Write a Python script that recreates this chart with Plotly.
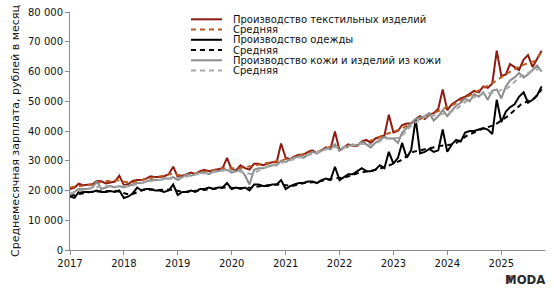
import pandas as pd
import plotly.graph_objects as go

# ---------------- data ----------------
months = pd.date_range("2017-01-01", periods=106, freq="MS")

textile = [
    20500, 21000, 22300, 21800, 21900, 22000, 23200, 23100, 22400, 22800, 23000, 25000,  # 2017
    21800, 22200, 23200, 23500, 23500, 24000, 24800, 24500, 24500, 24800, 25500, 28000,  # 2018
    24500, 25000, 25500, 26000, 25500, 26500, 27000, 26500, 26800, 27200, 27500, 31000,  # 2019
    27000, 26800, 28500, 27500, 27000, 29000, 29000, 28500, 29000, 29500, 29500, 35800,  # 2020
    31000, 30500, 31500, 32000, 32000, 33000, 33500, 32500, 33500, 34500, 34000, 39800,  # 2021
    33500, 34500, 35500, 35000, 35000, 36500, 37000, 36000, 37500, 38000, 38500, 45500,  # 2022
    39500, 40000, 42000, 42500, 42500, 44000, 45000, 44000, 45500, 46000, 47500, 54000,  # 2023
    47000, 49000, 50000, 51000, 51500, 52500, 53500, 53000, 55000, 54500, 56000, 67000,  # 2024
    58500, 59000, 62500, 61500, 60500, 64000, 65500, 61500, 64500, 67000,                # 2025
]
clothing = [
    18000, 17500, 19500, 19500, 19500, 19500, 20000, 19500, 19500, 19800, 19500, 20000,
    17500, 18000, 19000, 21000, 20000, 20500, 20500, 20000, 20000, 19500, 20000, 22000,
    18500, 19500, 19500, 20000, 19500, 20500, 20500, 21000, 20500, 21000, 21000, 22500,
    20500, 21000, 20500, 21000, 20000, 22000, 22000, 21500, 21500, 22000, 22000, 23500,
    20500, 21500, 22000, 22500, 22500, 23000, 23000, 22500, 23500, 24000, 23500, 28000,
    23500, 24500, 25500, 25500, 26500, 27500, 26500, 26500, 27000, 28500, 27500, 33000,
    29000, 31000, 36000, 31000, 33500, 44000, 32500, 33000, 34000, 33000, 33500, 40500,
    33000, 35500, 37000, 36500, 39500, 40000, 40000, 40500, 41000, 40500, 39000, 50500,
    43000, 46500, 48000, 49000, 51500, 53000, 49500, 50500, 52000, 55000,
]
leather = [
    18500, 19500, 20500, 20500, 20500, 21000, 23000, 20500, 21000, 21500, 21000, 21500,
    21000, 21500, 22000, 22500, 22500, 23000, 23500, 23500, 23500, 24000, 24000, 24500,
    23500, 24500, 25500, 25000, 25500, 26000, 26000, 25500, 26500, 26500, 27000, 27000,
    26000, 26500, 27000, 25000, 22000, 27000, 27500, 27500, 28000, 28500, 28500, 30000,
    29500, 30500, 31000, 31500, 31000, 32000, 33000, 32500, 33500, 34000, 34000, 35500,
    33500, 34500, 35000, 35500, 35000, 36500, 35500, 34500, 36000, 37000, 38000, 37500,
    37500, 36000, 39500, 41000, 42500, 44000, 44500, 45000, 46000, 43500, 45000, 47000,
    45000, 47000, 48500, 49500, 51000, 50000, 52500, 51500, 53000, 50500, 53500, 54000,
    51000, 55000, 57000, 58000, 59500, 58000, 59000, 60500, 62000, 60000,
]

# quarterly averages ("Средняя")
avg_dates = [f"{y}-{m:02d}-15" for y in range(2017, 2026) for m in (2, 5, 8, 11)]
avg_dates[0] = "2017-01-01"
avg_dates[-1] = "2025-10-01"
textile_avg = [
    21000, 22000, 23000, 23500, 22500, 23700, 24600, 25500, 25000, 26000, 26800, 27500,
    27500, 28200, 29000, 30000, 31000, 32500, 33200, 35000, 34500, 35500, 37000, 39000,
    40500, 43000, 45000, 47000, 49000, 51500, 54000, 56500, 59500, 62000, 63500, 66500,
]
clothing_avg = [
    18200, 19500, 19800, 19800, 18500, 20300, 20200, 20300, 19500, 20000, 20700, 21000,
    20800, 21000, 21700, 22000, 21500, 22600, 23000, 24000, 24500, 26000, 26700, 28000,
    30000, 33000, 34000, 35000, 35500, 38500, 40500, 42000, 45000, 49000, 51000, 54000,
]
leather_avg = [
    19000, 20700, 21500, 21300, 21500, 22700, 23500, 24000, 24500, 25500, 26000, 26800,
    26500, 25500, 27700, 29000, 30300, 31500, 33000, 34500, 34500, 35700, 35500, 37500,
    37700, 42500, 45000, 45500, 46800, 50300, 52300, 53000, 54500, 58500, 60500, 61000,
]

names = [
    "Производство текстильных изделий", "Средняя",
    "Производство одежды", "Средняя",
    "Производство кожи и изделий из кожи", "Средняя",
]
y_ticks = [0, 10000, 20000, 30000, 40000, 50000, 60000, 70000, 80000]
y_tick_text = ["0", "10 000", "20 000", "30 000", "40 000", "50 000", "60 000", "70 000", "80 000"]
x_ticks = [f"{y}-01-01" for y in range(2017, 2026)]
x_tick_text = [str(y) for y in range(2017, 2026)]
y_title = "Среднемесячная зарплата, рублей в месяц"

# ---------------- styles ----------------
colors = ["#8E1A12", "#B9581F", "#000000", "#000000", "#8C8C8C", "#A8A8A8"]
dashes = ["solid", "5px,4px", "solid", "5px,4px", "solid", "5px,4px"]
series = [
    (months, textile), (avg_dates, textile_avg),
    (months, clothing), (avg_dates, clothing_avg),
    (months, leather), (avg_dates, leather_avg),
]

fig = go.Figure()
for (xs, ys), nm, c, d in zip(series, names, colors, dashes):
    fig.add_trace(go.Scatter(x=xs, y=ys, mode="lines", name=nm,
                             line=dict(color=c, width=2, dash=d)))

FONT = "DejaVu Sans"
W, H = 554, 296
L, R, T, B = 70, 9, 6, 46
pw, ph = W - L - R, H - T - B

def px(xp):
    return (xp - L) / pw

def py(yp):
    return (H - B - yp) / ph

# manual compact legend
shapes, annotations = [], []
leg_y = [13.5, 24, 34.5, 45, 55.5, 66]
for nm, c, d, yy in zip(names, colors, dashes, leg_y):
    shapes.append(dict(type="line", xref="paper", yref="paper",
                       x0=px(191), x1=px(222), y0=py(yy), y1=py(yy),
                       line=dict(color=c, width=2, dash=d)))
    annotations.append(dict(xref="paper", yref="paper", x=px(231), y=py(yy),
                            text=nm, showarrow=False, xanchor="left", yanchor="middle",
                            font=dict(family=FONT, size=10, color="#111111")))

# logo
annotations.append(dict(xref="paper", yref="paper", x=px(547), y=py(280),
                        text="<b>MODA</b>", showarrow=False, xanchor="right",
                        yanchor="middle",
                        font=dict(family="Liberation Sans Narrow, Arial Narrow, DejaVu Sans Condensed",
                                  size=13, color="#2a2a2a")))
shapes.append(dict(type="rect", xref="paper", yref="paper",
                   x0=px(508), x1=px(512), y0=py(284), y1=py(276),
                   line=dict(width=0), fillcolor="#9a6070"))

fig.update_layout(
    width=W, height=H,
    margin=dict(l=L, r=R, t=T, b=B),
    paper_bgcolor="white", plot_bgcolor="white",
    showlegend=False,
    shapes=shapes, annotations=annotations,
    font=dict(family=FONT, size=10, color="#111111"),
)
fig.update_xaxes(
    type="date", range=["2017-01-01", "2025-10-24"],
    tickvals=x_ticks, ticktext=x_tick_text,
    showgrid=False, zeroline=False,
    showline=True, linecolor="#8C8C8C", linewidth=1,
    ticks="outside", ticklen=4, tickcolor="#8C8C8C",
    tickfont=dict(family=FONT, size=10, color="#111111"),
)
fig.update_yaxes(
    range=[0, 80000], tickvals=y_ticks, ticktext=y_tick_text,
    showgrid=False, zeroline=False,
    showline=True, linecolor="#8C8C8C", linewidth=1,
    ticks="outside", ticklen=4, tickcolor="#8C8C8C",
    tickfont=dict(family=FONT, size=10, color="#111111"),
    title=dict(text=y_title, font=dict(family=FONT, size=11, color="#111111"), standoff=6),
)

fig.write_html("out.html")
